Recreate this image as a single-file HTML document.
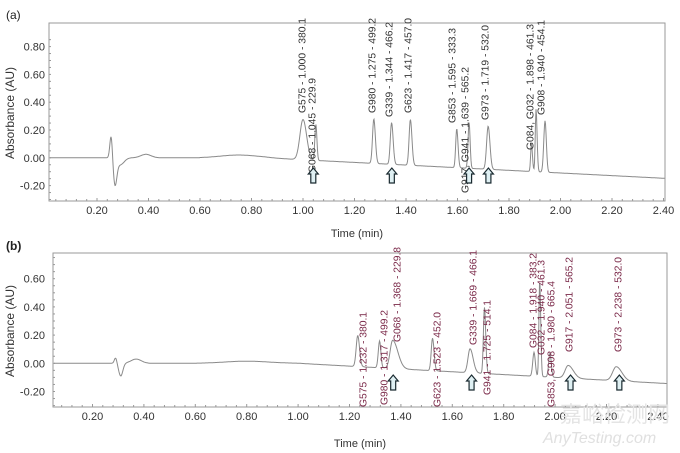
<!DOCTYPE html>
<html><head><meta charset="utf-8"><style>
html,body{margin:0;padding:0;background:#fff;}
svg{display:block;font-family:"Liberation Sans",sans-serif;}
</style></head><body>
<svg id="s" width="680" height="453" viewBox="0 0 680 453" xmlns="http://www.w3.org/2000/svg">
<rect width="680" height="453" fill="#fff"/>
<text x="6" y="19" font-size="12" fill="#222">(a)</text>
<text x="6" y="250" font-size="12" fill="#222" font-weight="bold">(b)</text>
<rect x="49" y="23" width="616" height="178" fill="none" stroke="#999" stroke-width="1"/>
<rect x="53" y="253" width="614" height="154" fill="none" stroke="#999" stroke-width="1"/>
<text transform="translate(14,113) rotate(-90)" font-size="12" fill="#333" text-anchor="middle">Absorbance (AU)</text>
<text transform="translate(14,331) rotate(-90)" font-size="12" fill="#333" text-anchor="middle">Absorbance (AU)</text>
<text x="357" y="237" font-size="11" fill="#333" text-anchor="middle">Time (min)</text>
<text x="360" y="447" font-size="11" fill="#333" text-anchor="middle">Time (min)</text>
<g id="g"></g>
<text x="560" y="422" font-size="22" fill="#e4e4e4" font-family="Liberation Sans,'Noto Sans CJK SC',sans-serif">嘉峪检测网</text>
<text x="543" y="443" font-size="16" fill="#e0e0e0" font-style="italic">AnyTesting.com</text>
</svg>
<script>
var g=document.getElementById('g'),h='';
function P(o){
 var xs=function(t){return o.x0+(t-0.2)*o.kx},ys=function(v){return o.y0-v*o.ky};
 for(var t=0.2;t<2.41;t+=0.2){h+='<text x="'+xs(t)+'" y="'+(o.bot+13)+'" font-size="11" fill="#333" text-anchor="middle">'+t.toFixed(2)+'</text>';}
 for(var t=0.04;t<2.44;t+=0.04){var X=xs(t);if(X>o.l&&X<o.r)h+='<line x1="'+X+'" x2="'+X+'" y1="'+o.bot+'" y2="'+(o.bot-((Math.round(t*25)%5==0)?3:2))+'" stroke="#999"/>';}
 o.yt.forEach(function(v){h+='<text x="45" y="'+(ys(v)+4)+'" font-size="11" fill="#333" text-anchor="end">'+v.toFixed(2)+'</text>';});
 for(var v=-0.3;v<=0.9;v+=0.05){var Y=ys(v);if(Y>o.top&&Y<o.bot)h+='<line x1="'+o.l+'" x2="'+(o.l+2)+'" y1="'+Y+'" y2="'+Y+'" stroke="#999"/>';}
 var d='';
 for(var X=o.l+1;X<o.r;X+=0.5){var t=o.t0+(X-o.x0)/o.kx;var v=o.base(t);
  o.pk.forEach(function(p){var s=t<p[0]?p[2]:p[3];v+=p[1]*Math.exp(-Math.pow((t-p[0])/s,2)/2);});
  d+=(d?'L':'M')+X.toFixed(1)+' '+ys(v).toFixed(1);}
 h+='<path d="'+d+'" fill="none" stroke="#8a8a8a" stroke-width="1"/>';
 o.lb.forEach(function(L){h+='<text transform="translate('+L[0]+','+L[1]+') rotate(-90)" font-size="'+o.fs+'" fill="'+o.col+'" dominant-baseline="middle">'+L[2]+'</text>';});
 o.ar.forEach(function(t){var X=xs(t),Y=o.ay;h+='<path d="M'+X+' '+Y+' l5 6 h-2.5 v9 h-5 v-9 h-2.5 z" fill="#dff0f3" stroke="#1a2a30" stroke-width="1.2"/>';});
}
function eb(t){var v=0;if(t>0.6)v+=0.02*Math.exp(-Math.pow((t-0.75)/0.1,2));if(t>0.85)v-= (t-0.85)*0.095;
 v+=0.17*Math.exp(-Math.pow((t-0.255)/0.005,2)/2)-0.18*Math.exp(-Math.pow((t-0.27)/0.007,2)/2)-0.05*Math.exp(-Math.pow((t-0.29)/0.015,2)/2)+0.025*Math.exp(-Math.pow((t-0.39)/0.02,2)/2);return v;}
P({x0:97,kx:257.5,t0:0.2,y0:157.8,ky:139,l:49,r:665,top:23,bot:201,yt:[0.8,0.6,0.4,0.2,0,-0.2],base:eb,fs:10.3,col:'#333',
 pk:[[1.0,0.29,0.012,0.014],[1.05,0.26,0.004,0.004],[1.275,0.32,0.005,0.006],[1.344,0.3,0.005,0.006],[1.417,0.33,0.005,0.006],[1.597,0.28,0.004,0.005],[1.645,0.33,0.004,0.004],[1.719,0.31,0.006,0.007],[1.887,0.2,0.003,0.004],[1.905,0.45,0.003,0.004],[1.940,0.37,0.005,0.005]],
 lb:[[303,113,'G575 - 1.000 - 380.1'],[313,173,'G068 - 1.045 - 229.9'],[373,113,'G980 - 1.275 - 499.2'],[390,117,'G339 - 1.344 - 466.2'],[409,113,'G623 - 1.417 - 457.0'],[453,123,'G853 - 1.595 - 333.3'],[466,193,'G917, G941 - 1.639 - 565.2'],[486,120,'G973 - 1.719 - 532.0'],[531,150,'G084, G032 - 1.898 - 461.3'],[542,115,'G908 - 1.940 - 454.1']],
 ar:[1.04,1.345,1.645,1.72],ay:168});
function bb(t){var v=0;v+=0.015*Math.exp(-Math.pow((t-0.8)/0.12,2));if(t>1.0)v-=(t-1.0)*0.1;
 v+=0.04*Math.exp(-Math.pow((t-0.29)/0.005,2)/2)-0.09*Math.exp(-Math.pow((t-0.31)/0.008,2)/2)+0.03*Math.exp(-Math.pow((t-0.37)/0.02,2)/2);return v;}
P({x0:92.5,kx:257,t0:0.2,y0:363.3,ky:141,l:53,r:667,top:253,bot:407,yt:[0.6,0.4,0.2,0,-0.2],base:bb,fs:10.3,col:'#7a2848',
 pk:[[1.232,0.22,0.006,0.007],[1.317,0.19,0.005,0.005],[1.368,0.2,0.01,0.02],[1.523,0.23,0.005,0.006],[1.669,0.17,0.008,0.012],[1.725,0.47,0.004,0.005],[1.918,0.17,0.005,0.005],[1.940,0.68,0.003,0.004],[1.980,0.17,0.005,0.005],[2.051,0.09,0.012,0.02],[2.238,0.1,0.014,0.022]],
 lb:[[364,407,'G575 - 1.232 - 380.1'],[385,405,'G980 - 1.317 - 499.2'],[398,342,'G068 - 1.368 - 229.8'],[438,407,'G623 - 1.523 - 452.0'],[474,345,'G339 - 1.669 - 466.1'],[488,395,'G941 - 1.725 - 514.1'],[534,348,'G084 - 1.918 - 383.2'],[542,355,'G032 - 1.940 - 461.3'],[552,407,'G853, G908 - 1.980 - 665.4'],[570,352,'G917 - 2.051 - 565.2'],[619,352,'G973 - 2.238 - 532.0']],
 ar:[1.37,1.675,2.06,2.25],ay:375});
g.innerHTML=h;
</script>
</body></html>
